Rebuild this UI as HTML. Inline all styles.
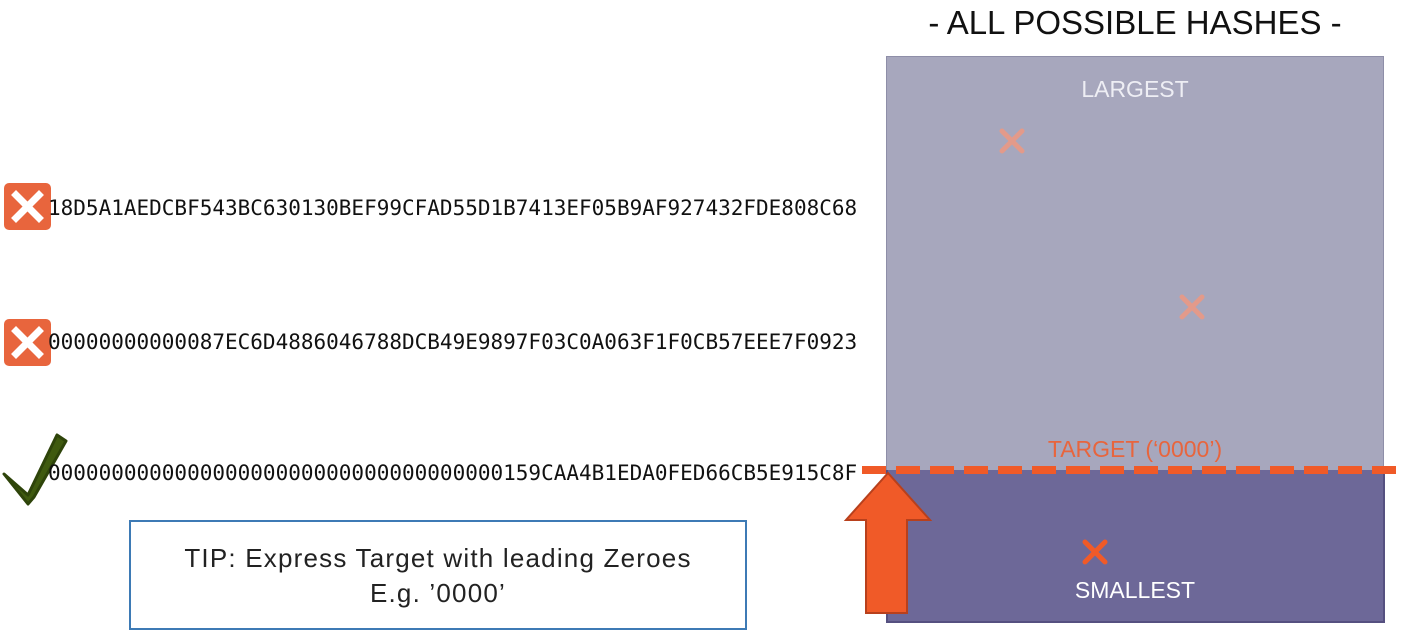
<!DOCTYPE html>
<html><head><meta charset="utf-8"><style>
body{margin:0;width:1401px;height:634px;background:#fff;position:relative;overflow:hidden;font-family:"Liberation Sans",sans-serif}
.a{position:absolute}
.hash{position:absolute;left:48px;font-family:"DejaVu Sans Mono","Liberation Mono",monospace;font-size:21px;color:#111;line-height:24px;white-space:nowrap}
</style></head><body>
<div class="a" style="left:837px;width:596px;top:4px;text-align:center;font-size:33px;color:#111">- ALL POSSIBLE HASHES -</div>
<div class="a" style="left:886px;top:56px;width:496px;height:414px;background:#a7a7bd;border:1px solid #8e8ea8;border-bottom:none"></div>
<div class="a" style="left:886px;top:470px;width:495px;height:151px;background:#6d6898;border:2px solid #555080;border-top:none"></div>
<div class="a" style="left:887px;width:496px;top:76px;text-align:center;font-size:23px;color:#eeeef4">LARGEST</div>
<div class="a" style="left:887px;width:496px;top:577px;text-align:center;font-size:23px;color:#fff">SMALLEST</div>
<div class="a" style="left:887px;width:496px;top:436px;text-align:center;font-size:23px;color:#e8653d">TARGET (‘0000’)</div>
<svg class="a" style="left:0;top:0" width="1401" height="634">
<line x1="862" y1="470" x2="1401" y2="470" stroke="#f05a28" stroke-width="8" stroke-dasharray="24 10"/>
<polygon points="888,473 930,520 907,520 907,613 866,613 866,520 846,520" fill="#f05a28" stroke="#b8401c" stroke-width="2"/>
<g stroke-width="5" stroke-linecap="round">
<g stroke="#e39a8a"><line x1="1002" y1="131" x2="1022" y2="151"/><line x1="1022" y1="131" x2="1002" y2="151"/></g>
<g stroke="#e39a8a"><line x1="1182" y1="297" x2="1202" y2="317"/><line x1="1202" y1="297" x2="1182" y2="317"/></g>
<g stroke="#f05a28"><line x1="1085" y1="542" x2="1105" y2="562"/><line x1="1105" y1="542" x2="1085" y2="562"/></g>
</g>
<g><polygon points="4,474 28,495 57,435 66,441 34,497 28,504" fill="#3f5a0f" stroke="#2e440a" stroke-width="3" stroke-linejoin="round"/></g>
<g stroke="#fff" stroke-width="7" stroke-linecap="square">
<g><rect x="4" y="183" width="47" height="47" rx="5" fill="#e8653d" stroke="none"/><line x1="16" y1="195" x2="39" y2="218"/><line x1="39" y1="195" x2="16" y2="218"/></g>
<g><rect x="4" y="319" width="47" height="47" rx="5" fill="#e8653d" stroke="none"/><line x1="16" y1="331" x2="39" y2="354"/><line x1="39" y1="331" x2="16" y2="354"/></g>
</g>
</svg>
<div class="hash" style="top:196px">18D5A1AEDCBF543BC630130BEF99CFAD55D1B7413EF05B9AF927432FDE808C68</div>
<div class="hash" style="top:330px">00000000000087EC6D4886046788DCB49E9897F03C0A063F1F0CB57EEE7F0923</div>
<div class="hash" style="top:461px">000000000000000000000000000000000000159CAA4B1EDA0FED66CB5E915C8F</div>
<div class="a" style="left:129px;top:520px;width:618px;height:110px;border:2px solid #3d7ab5;text-align:center;font-size:26px;letter-spacing:1.2px;color:#222;line-height:35px;padding-top:19px;box-sizing:border-box">TIP: Express Target with leading Zeroes<br>E.g. ’0000’</div>
</body></html>
